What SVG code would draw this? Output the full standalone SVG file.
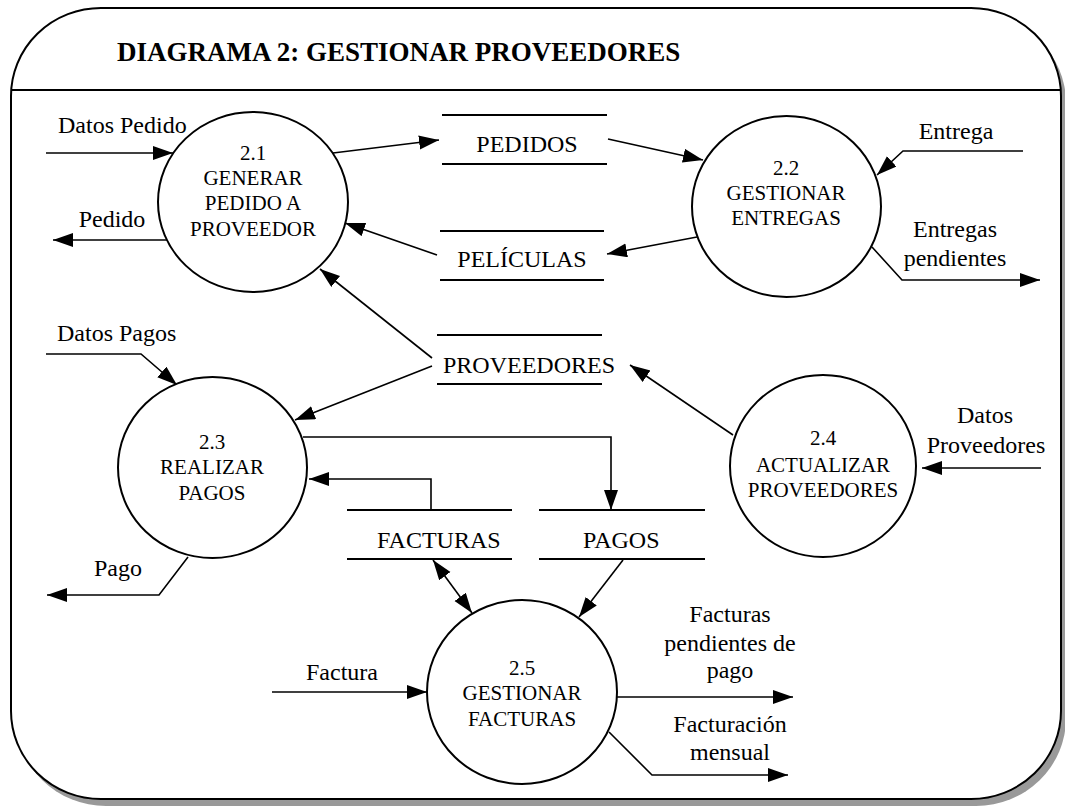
<svg xmlns="http://www.w3.org/2000/svg" width="1065" height="808" viewBox="0 0 1065 808" font-family="Liberation Serif, Nimbus Roman, FreeSerif, Times, Noto Serif, DejaVu Serif, serif">
<defs>
<marker id="arr" markerUnits="userSpaceOnUse" markerWidth="22" markerHeight="16" refX="20" refY="7" orient="auto-start-reverse"><path d="M0,0 L20,7 L0,14 z" fill="#000"/></marker>
</defs>
<style>
text{font-family:"Liberation Serif","Nimbus Roman","Nimbus Roman No9 L",FreeSerif,Times,"Noto Serif","DejaVu Serif",serif;fill:#000}
.lbl{font-size:24px}
.c{text-anchor:middle}
.proc{font-size:21px;text-anchor:middle}
.flow{fill:none;stroke:#000;stroke-width:1.6;marker-end:url(#arr)}
.bi{marker-start:url(#arr)}
.pshape{fill:#fff;stroke:#000;stroke-width:2}
.store{stroke:#000;stroke-width:2}
</style>
<g id="frame">
<rect x="16" y="15" width="1050" height="791" rx="90" ry="88" fill="#999"/>
<rect x="11" y="8" width="1050" height="791" rx="90" ry="88" fill="#fff" stroke="#000" stroke-width="2"/>
<line x1="11" y1="90" x2="1061" y2="90" stroke="#000" stroke-width="2"/>
<text x="117" y="61" font-size="27" font-weight="bold">DIAGRAMA 2: GESTIONAR PROVEEDORES</text>
</g>
<g id="connectors">
<path class="flow" d="M46,153 L173,153"/>
<path class="flow" d="M167,240 L53,240"/>
<path class="flow" d="M333,153 L439,140"/>
<path class="flow" d="M608,139 L703,160"/>
<path class="flow" d="M1023,151 L903,151 L877,175"/>
<path class="flow" d="M872,247 L902,280 L1040,280"/>
<path class="flow" d="M697,237 L607,254"/>
<path class="flow" d="M437,255 L345,223"/>
<path class="flow" d="M432,358 L320,269"/>
<path class="flow" d="M432,366 L295,420"/>
<path class="flow" d="M733,435 L630,365"/>
<path class="flow" d="M1041,468 L922,468"/>
<path class="flow" d="M46,354 L141,354 L177,385"/>
<path class="flow" d="M188,557 L159,595 L47,595"/>
<path class="flow" d="M303,437 L611,437 L611,510"/>
<path class="flow" d="M431,511 L431,479 L309,479"/>
<path class="flow bi" d="M433,560 L472,613"/>
<path class="flow" d="M623,560 L579,617"/>
<path class="flow" d="M272,692 L427,692"/>
<path class="flow" d="M617,697 L793,697"/>
<path class="flow" d="M609,732 L652,775 L788,775"/>
</g>
<g id="labels">
<text class="lbl" x="58" y="133">Datos Pedido</text>
<text class="lbl c" x="112" y="227">Pedido</text>
<text class="lbl c" x="956" y="139">Entrega</text>
<text class="lbl c" x="955" y="237">Entregas</text>
<text class="lbl c" x="955" y="266">pendientes</text>
<text class="lbl" x="57" y="341">Datos Pagos</text>
<text class="lbl c" x="985" y="423">Datos</text>
<text class="lbl c" x="986" y="453">Proveedores</text>
<text class="lbl c" x="118" y="576">Pago</text>
<text class="lbl c" x="342" y="680">Factura</text>
<text class="lbl c" x="730" y="622">Facturas</text>
<text class="lbl c" x="730" y="651">pendientes de</text>
<text class="lbl c" x="730" y="678">pago</text>
<text class="lbl c" x="730" y="732">Facturación</text>
<text class="lbl c" x="730" y="760">mensual</text>
</g>
<g id="p21">
<ellipse class="pshape" cx="253" cy="202" rx="95" ry="90"/>
<text class="proc" x="253" y="160">2.1</text>
<text class="proc" x="253" y="185">GENERAR</text>
<text class="proc" x="253" y="210">PEDIDO A</text>
<text class="proc" x="253" y="236">PROVEEDOR</text>
</g>
<g id="p22">
<ellipse class="pshape" cx="786.5" cy="206.5" rx="94.5" ry="90.5"/>
<text class="proc" x="786" y="175">2.2</text>
<text class="proc" x="786" y="200">GESTIONAR</text>
<text class="proc" x="786" y="225">ENTREGAS</text>
</g>
<g id="p23">
<ellipse class="pshape" cx="212.5" cy="467.5" rx="94.5" ry="90.5"/>
<text class="proc" x="212" y="449">2.3</text>
<text class="proc" x="212" y="474">REALIZAR</text>
<text class="proc" x="212" y="500">PAGOS</text>
</g>
<g id="p24">
<ellipse class="pshape" cx="823" cy="466" rx="93" ry="91"/>
<text class="proc" x="823" y="445">2.4</text>
<text class="proc" x="823" y="472">ACTUALIZAR</text>
<text class="proc" x="823" y="497">PROVEEDORES</text>
</g>
<g id="p25">
<ellipse class="pshape" cx="522" cy="692" rx="95" ry="92"/>
<text class="proc" x="522" y="675">2.5</text>
<text class="proc" x="522" y="700">GESTIONAR</text>
<text class="proc" x="522" y="726">FACTURAS</text>
</g>
<g id="s-pedidos">
<line class="store" x1="442" y1="115" x2="607" y2="115"/>
<line class="store" x1="442" y1="164" x2="607" y2="164"/>
<text class="lbl c" x="527" y="152">PEDIDOS</text>
</g>
<g id="s-peliculas">
<line class="store" x1="440" y1="231" x2="604" y2="231"/>
<line class="store" x1="440" y1="280" x2="604" y2="280"/>
<text class="lbl c" x="522" y="267">PELÍCULAS</text>
</g>
<g id="s-proveedores">
<line class="store" x1="437" y1="335" x2="602" y2="335"/>
<line class="store" x1="437" y1="384" x2="602" y2="384"/>
<text class="lbl" x="443" y="373">PROVEEDORES</text>
</g>
<g id="s-facturas">
<line class="store" x1="347" y1="510" x2="512" y2="510"/>
<line class="store" x1="347" y1="559" x2="512" y2="559"/>
<text class="lbl" x="377" y="548">FACTURAS</text>
</g>
<g id="s-pagos">
<line class="store" x1="539" y1="510" x2="705" y2="510"/>
<line class="store" x1="539" y1="559" x2="705" y2="559"/>
<text class="lbl" x="583" y="548">PAGOS</text>
</g>
</svg>
